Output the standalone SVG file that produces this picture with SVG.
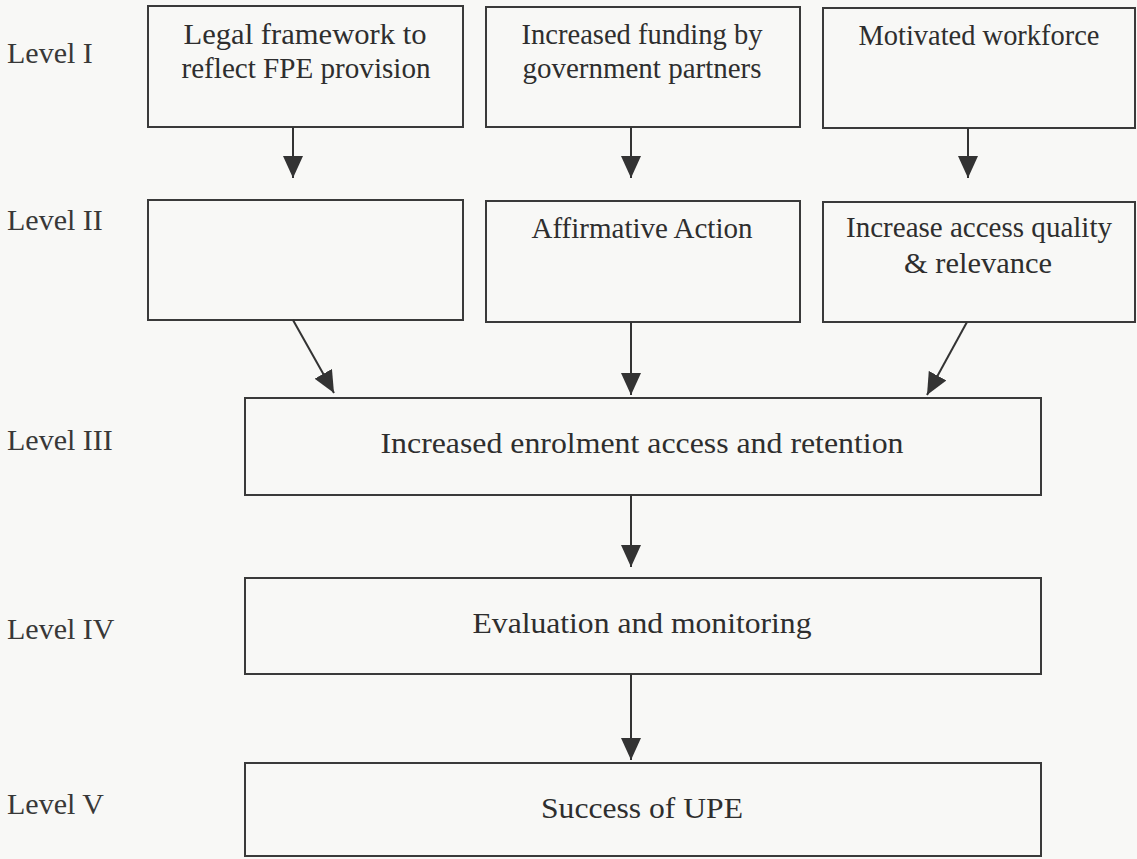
<svg xmlns="http://www.w3.org/2000/svg" width="1137" height="859" viewBox="0 0 1137 859">
  <style>
    .box { fill: none; stroke: #3a3a3a; stroke-width: 2; }
    .t { font-family: "Liberation Serif", "Times New Roman", serif; font-size: 29px; fill: #2e2e2e; text-anchor: middle; }
    .lvl { font-family: "Liberation Serif", "Times New Roman", serif; font-size: 30px; fill: #383838; }
    .conn { stroke: #333; stroke-width: 2; fill: none; marker-end: url(#ah); }
  </style>
  <defs>
    <marker id="ah" viewBox="0 0 22 20" refX="22" refY="10" markerWidth="22" markerHeight="20" markerUnits="userSpaceOnUse" orient="auto">
      <path d="M0,0 L22,10 L0,20 Z" fill="#333"/>
    </marker>
  </defs>
  <rect width="1137" height="859" fill="#f8f8f6"/>

  <g id="level-labels">
    <text class="lvl" x="7" y="63">Level I</text>
    <text class="lvl" x="7" y="230">Level II</text>
    <text class="lvl" x="7" y="450">Level III</text>
    <text class="lvl" x="7" y="639">Level IV</text>
    <text class="lvl" x="7" y="814">Level V</text>
  </g>

  <g id="n1">
    <rect class="box" x="148" y="6" width="315" height="121"/>
    <text class="t" x="305" y="44" textLength="243" lengthAdjust="spacingAndGlyphs">Legal framework to</text>
    <text class="t" x="306" y="78" textLength="249" lengthAdjust="spacingAndGlyphs">reflect FPE provision</text>
  </g>
  <g id="n2">
    <rect class="box" x="486" y="7" width="314" height="120"/>
    <text class="t" x="642" y="44" textLength="241" lengthAdjust="spacingAndGlyphs">Increased funding by</text>
    <text class="t" x="642" y="78" textLength="239" lengthAdjust="spacingAndGlyphs">government partners</text>
  </g>
  <g id="n3">
    <rect class="box" x="823" y="8" width="312" height="120"/>
    <text class="t" x="979" y="45" textLength="241" lengthAdjust="spacingAndGlyphs">Motivated workforce</text>
  </g>
  <g id="n4">
    <rect class="box" x="148" y="200" width="315" height="120"/>
  </g>
  <g id="n5">
    <rect class="box" x="486" y="201" width="314" height="121"/>
    <text class="t" x="642" y="238" textLength="221" lengthAdjust="spacingAndGlyphs">Affirmative Action</text>
  </g>
  <g id="n6">
    <rect class="box" x="823" y="202" width="312" height="120"/>
    <text class="t" x="979" y="237" textLength="266" lengthAdjust="spacingAndGlyphs">Increase access quality</text>
    <text class="t" x="978" y="273" textLength="148" lengthAdjust="spacingAndGlyphs">&amp; relevance</text>
  </g>
  <g id="n7">
    <rect class="box" x="245" y="398" width="796" height="97"/>
    <text class="t" x="642" y="453" textLength="523" lengthAdjust="spacingAndGlyphs">Increased enrolment access and retention</text>
  </g>
  <g id="n8">
    <rect class="box" x="245" y="578" width="796" height="96"/>
    <text class="t" x="642" y="633" textLength="339" lengthAdjust="spacingAndGlyphs">Evaluation and monitoring</text>
  </g>
  <g id="n9">
    <rect class="box" x="245" y="763" width="796" height="93"/>
    <text class="t" x="642" y="818" textLength="202" lengthAdjust="spacingAndGlyphs">Success of UPE</text>
  </g>

  <g id="connectors">
    <line class="conn" x1="293" y1="127" x2="293" y2="178"/>
    <line class="conn" x1="631" y1="127" x2="631" y2="178"/>
    <line class="conn" x1="968" y1="128" x2="968" y2="178"/>
    <line class="conn" x1="293" y1="320" x2="334" y2="393"/>
    <line class="conn" x1="631" y1="322" x2="631" y2="395"/>
    <line class="conn" x1="967" y1="322" x2="927" y2="395"/>
    <line class="conn" x1="631" y1="495" x2="631" y2="567"/>
    <line class="conn" x1="631" y1="674" x2="631" y2="760"/>
  </g>
</svg>
